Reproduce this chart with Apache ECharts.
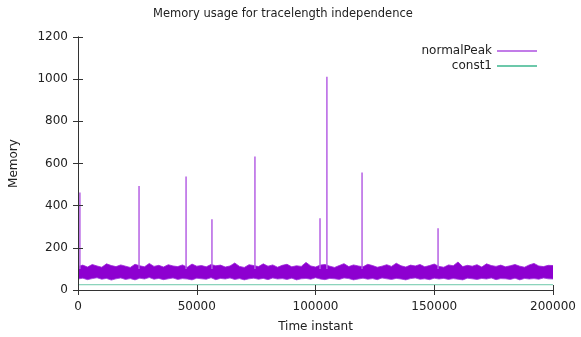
<!DOCTYPE html>
<html>
<head>
<meta charset="utf-8">
<script src="https://cdn.jsdelivr.net/npm/echarts@6/dist/echarts.min.js"></script>
<style>
  html, body { margin: 0; padding: 0; background: #fff; }
  #main { width: 581px; height: 337px; }
</style>
</head>
<body>
<div id="main"></div>
<script>
// normalPeak is a dense noisy band: keep its lower and upper edges,
// one reading every edgeStep time instants
let edgeStep = 2000
let bandUpper = [
    112,118,109,121,114,108,124,116,111,119, 113,107,122,115,110,126,112,117,109,120,
    114,111,119,108,123,113,116,110,121,115, 118,109,114,128,112,107,120,116,111,124,
    113,119,108,117,122,110,115,112,131,114, 109,118,121,113,107,116,125,111,119,114,
    110,122,116,108,113,120,112,127,115,109, 118,114,121,110,116,123,112,108,119,115,
    133,111,117,113,120,109,124,116,112,118, 110,115,121,113,108,119,126,114,111,117,
    116
]
let bandLower = [
    52,56,49,54,58,51,55,47,53,57, 50,54,48,56,52,59,51,55,49,53,
    57,50,54,52,48,56,53,51,58,49, 55,52,57,50,54,48,53,56,51,55,
    49,57,52,54,50,56,48,53,55,51, 58,52,49,55,53,50,57,54,48,52,
    56,51,54,49,57,53,50,55,52,48, 54,57,51,53,49,56,52,55,50,54,
    51,48,56,53,50,55,52,57,49,54, 53,50,56,48,55,52,54,51,57,53,
    52
]
// the peaks of normalPeak
let peakTimes = [800, 25700, 45500, 56400, 74500, 101900, 104800, 119600, 151600]
let peakValues = [463, 493, 538, 335, 633, 340, 1012, 557, 293]
let peakBase = 100
let const1 = 25

let xTicks = [0, 50000, 100000, 150000, 200000]
let yTicks = [0, 200, 400, 600, 800, 1000, 1200]

let font = 'DejaVu Sans'
let purple = '#9400d3'
let green = '#6cc8aa'

function edgeData(arr) {
    return arr.map((v, i) => [i * edgeStep, v])
}
function peakData() {
    let pts = []
    peakTimes.forEach((t, k) => {
        pts.push([t, peakBase], [t, peakValues[k]], null)
    })
    return pts
}

var myChart = echarts.init(document.getElementById('main'))

let axisLine = { show: true, lineStyle: { color: '#333', width: 1 } }
let tick = { show: true, inside: true, length: 5, lineStyle: { color: '#333' } }
let label = { fontFamily: font, fontSize: 12, color: '#222', formatter: v => String(v) }

let option = {
    animation: false,
    backgroundColor: '#fff',
    title: {
        text: 'Memory usage for tracelength independence',
        left: 148,
        top: 3,
        textStyle: { fontFamily: font, fontSize: 11.5, fontWeight: 'normal', color: '#222' }
    },
    legend: {
        orient: 'vertical',
        right: 39,
        top: 40,
        align: 'right',
        itemWidth: 40,
        itemHeight: 2,
        itemGap: 3,
        icon: 'rect',
        textStyle: { fontFamily: font, fontSize: 12, color: '#222' },
        data: [
            { name: 'normalPeak', itemStyle: { color: '#c27ce8' } },
            { name: 'const1', itemStyle: { color: green } }
        ]
    },
    grid: { left: 78, right: 28, top: 37, bottom: 47, outerBoundsMode: 'none' },
    xAxis: [{
        type: 'value',
        z: 10,
        min: xTicks[0],
        max: xTicks[xTicks.length - 1],
        interval: xTicks[1] - xTicks[0],
        name: 'Time instant',
        nameLocation: 'middle',
        nameGap: 31,
        nameTextStyle: { fontFamily: font, fontSize: 12, color: '#222' },
        axisLine: axisLine,
        axisTick: tick,
        axisLabel: Object.assign({ margin: 11 }, label),
        splitLine: { show: false }
    }, {
        type: 'value',
        z: 10,
        position: 'top',
        min: xTicks[0],
        max: xTicks[xTicks.length - 1],
        interval: xTicks[1] - xTicks[0],
        axisLine: axisLine,
        axisTick: tick,
        axisLabel: { show: false },
        splitLine: { show: false }
    }],
    yAxis: [{
        type: 'value',
        z: 10,
        min: yTicks[0],
        max: yTicks[yTicks.length - 1],
        interval: yTicks[1] - yTicks[0],
        name: 'Memory',
        nameLocation: 'middle',
        nameGap: 58,
        nameTextStyle: { fontFamily: font, fontSize: 12, color: '#222' },
        axisLine: axisLine,
        axisTick: tick,
        axisLabel: Object.assign({ margin: 10 }, label),
        splitLine: { show: false }
    }, {
        type: 'value',
        z: 10,
        position: 'right',
        min: yTicks[0],
        max: yTicks[yTicks.length - 1],
        interval: yTicks[1] - yTicks[0],
        axisLine: axisLine,
        axisTick: tick,
        axisLabel: { show: false },
        splitLine: { show: false }
    }],
    series: [
        {
            // upper edge of the band, filled down
            name: 'normalPeak',
            type: 'line',
            data: edgeData(bandUpper),
            symbol: 'none',
            color: purple,
            lineStyle: { color: '#9a20d8', width: 0.8 },
            areaStyle: { color: '#8d00d0', opacity: 1, origin: 'start' },
            z: 2
        },
        {
            // below the lower edge the plot stays empty
            name: 'normalPeak',
            type: 'line',
            data: edgeData(bandLower),
            symbol: 'none',
            color: purple,
            lineStyle: { color: '#a040dc', width: 0.8 },
            areaStyle: { color: '#ffffff', opacity: 1, origin: 'start' },
            z: 3
        },
        {
            name: 'normalPeak',
            type: 'line',
            data: peakData(),
            connectNulls: false,
            symbol: 'none',
            color: purple,
            lineStyle: { color: '#b560e4', width: 1.5 },
            z: 4
        },
        {
            name: 'const1',
            type: 'line',
            data: [[xTicks[0], const1], [xTicks[xTicks.length - 1], const1]],
            symbol: 'none',
            color: green,
            lineStyle: { color: green, width: 1 },
            z: 5
        }
    ]
}

myChart.setOption(option)
</script>
</body>
</html>
